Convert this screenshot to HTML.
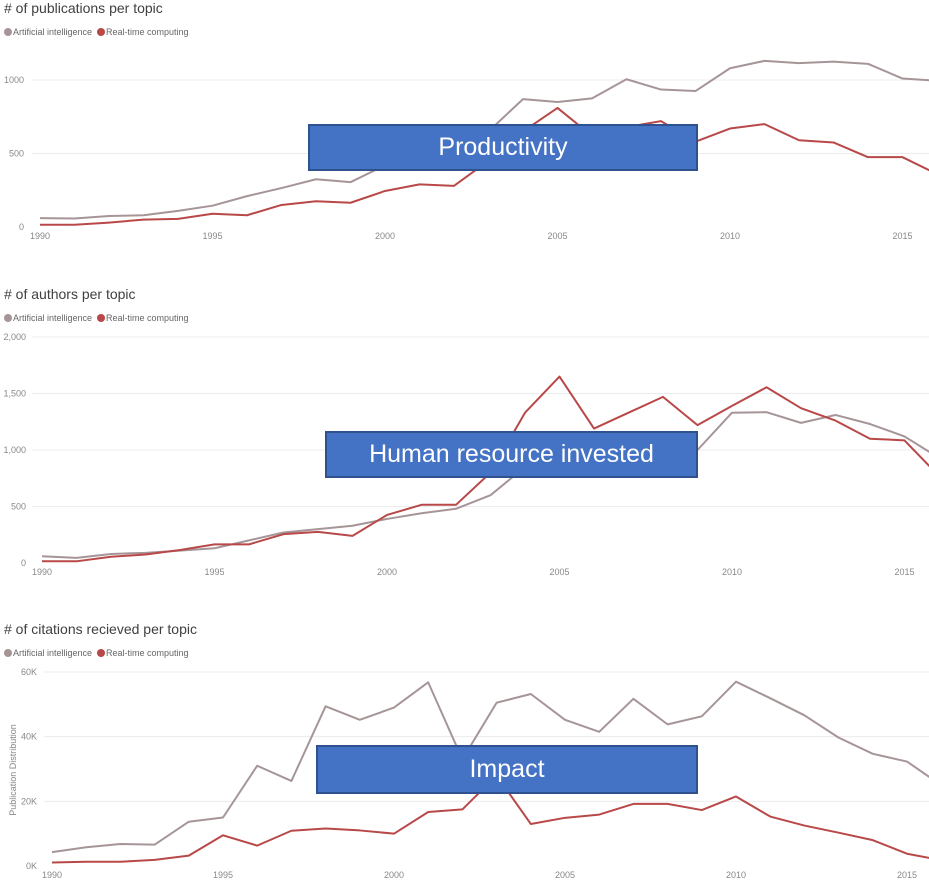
<!DOCTYPE html>
<html><head><meta charset="utf-8">
<style>
body{margin:0;background:#fff;width:929px;height:882px;overflow:hidden;font-family:"Liberation Sans",sans-serif;}
svg{position:absolute;left:0;top:0}
.box{position:absolute;background:#4472C4;border:2px solid #2F528F;color:#fff;font-family:"Liberation Sans",sans-serif;font-size:25px;display:flex;align-items:center;justify-content:center;box-sizing:border-box}
</style></head><body>
<svg id="c" width="929" height="882"></svg>
<div class="box" style="left:308px;top:124px;width:390px;height:47px">Productivity</div>
<div class="box" style="left:325px;top:431px;width:373px;height:47px">Human resource invested</div>
<div class="box" style="left:316px;top:745px;width:382px;height:49px">Impact</div>
<script>
const years=[1990,1991,1992,1993,1994,1995,1996,1997,1998,1999,2000,2001,2002,2003,2004,2005,2006,2007,2008,2009,2010,2011,2012,2013,2014,2015,2016];
const xTicks=[1990,1995,2000,2005,2010,2015];
const pubAI=[60,58,75,80,110,145,210,265,325,305,420,480,540,650,870,850,875,1005,935,925,1080,1130,1115,1125,1110,1010,995];
const pubRT=[15,15,30,50,55,90,80,150,175,165,245,290,280,450,650,810,620,680,720,580,670,700,590,575,475,475,360];
const pubTicks=[0,500,1000];
const pubTickLabels=["0","500","1000"];
const authAI=[60,45,80,90,110,130,200,270,300,330,390,440,480,600,850,950,1000,1020,1000,1000,1330,1335,1240,1310,1230,1120,930];
const authRT=[15,15,55,75,115,165,165,255,275,240,425,515,515,800,1330,1650,1190,1330,1470,1220,1390,1555,1370,1260,1100,1085,770];
const authTicks=[0,500,1000,1500,2000];
const authTickLabels=["0","500","1,000","1,500","2,000"];
const citAI=[4.3,5.8,6.8,6.6,13.7,15,31,26.3,49.4,45.2,49,56.8,33,50.5,53.2,45.2,41.5,51.7,43.8,46.3,57,51.9,46.6,39.7,34.7,32.3,25];
const citRT=[1.1,1.3,1.3,1.9,3.2,9.5,6.3,10.9,11.6,11,10,16.7,17.5,28,13,14.9,15.9,19.2,19.2,17.3,21.5,15.3,12.5,10.3,8,3.8,1.8];
const citTicks=[0,20,40,60];
const citTickLabels=["0K","20K","40K","60K"];

const svg=document.getElementById('c');
const NS='http://www.w3.org/2000/svg';
function mk(tag,attrs,parent){const e=document.createElementNS(NS,tag);for(const k in attrs)e.setAttribute(k,attrs[k]);(parent||svg).appendChild(e);return e;}

function chart(cfg){
  const g=mk('g',{});
  
  
  const xs=y=>cfg.x0+(y-1990)*cfg.dx;
  const ys=v=>cfg.yBase-(v/cfg.yMax)*(cfg.yBase-cfg.yTop);
  const t=mk('text',{x:4,y:cfg.top+13,'font-size':14,fill:'#404040'},g);t.textContent=cfg.title;
  
  
  // legend
  const lg=mk('g',{},g);
  
  
  mk('circle',{cx:8,cy:cfg.top+32,r:4,fill:'#A69597'},lg);
  const l1=mk('text',{x:13,y:cfg.top+35,'font-size':9,fill:'#666'},lg);l1.textContent='Artificial intelligence';
  mk('circle',{cx:101,cy:cfg.top+32,r:4,fill:'#B94848'},lg);
  const l2=mk('text',{x:106,y:cfg.top+35,'font-size':9,fill:'#666'},lg);l2.textContent='Real-time computing';
  cfg.yTicks.forEach((v,i)=>{
    const yy=ys(v);
    if(v>0){const gl=mk('line',{x1:cfg.gridX,x2:929,y1:yy,y2:yy,stroke:'#ececec','stroke-width':1},g);
      
      }
    const tl=mk('text',{x:cfg.tickX,y:yy+3,'font-size':9,fill:'#888','text-anchor':'end'},g);tl.textContent=cfg.yLabels[i];
    
    
  });
  xTicks.forEach(y=>{
    const tl=mk('text',{x:xs(y),y:cfg.yBase+12,'font-size':9,fill:'#888','text-anchor':'middle'},g);tl.textContent=y;
    
    
  });
  [[cfg.ai,'#A69597','series-artificial-intelligence'],[cfg.rt,'#B94848','series-real-time-computing']].forEach(([d,c,n])=>{
    const p=mk('polyline',{points:d.map((v,i)=>xs(years[i])+','+ys(v)).join(' '),fill:'none',stroke:c,'stroke-width':2,'stroke-linejoin':'round'},g);
    
    
  });
}
chart({name:'publications-chart',title:'# of publications per topic',top:0,x0:40,dx:34.5,yBase:227,yTop:80,yMax:1000,yTicks:pubTicks,yLabels:pubTickLabels,ai:pubAI,rt:pubRT,tickX:24,gridX:32});
chart({name:'authors-chart',title:'# of authors per topic',top:286,x0:42,dx:34.5,yBase:563,yTop:337,yMax:2000,yTicks:authTicks,yLabels:authTickLabels,ai:authAI,rt:authRT,tickX:26,gridX:32});
chart({name:'citations-chart',title:'# of citations recieved per topic',top:621,x0:52,dx:34.2,yBase:866,yTop:672,yMax:60,yTicks:citTicks,yLabels:citTickLabels,ai:citAI,rt:citRT,tickX:37,gridX:44});
const at=mk('text',{x:16,y:770,'font-size':9,fill:'#888','text-anchor':'middle',transform:'rotate(-90 16 770)'});
at.textContent='Publication Distribution';


</script>
</body></html>
